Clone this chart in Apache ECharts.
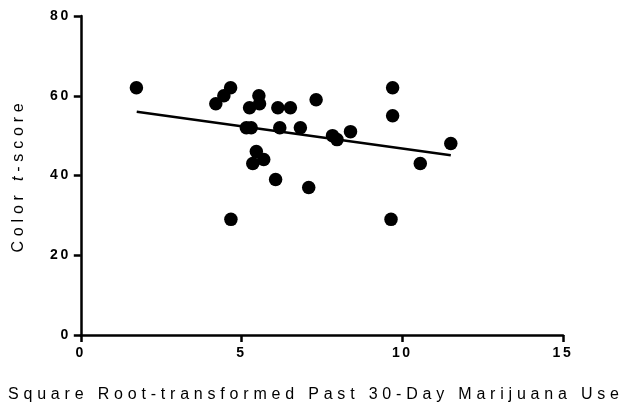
<!DOCTYPE html>
<html>
<head>
<meta charset="utf-8">
<script src="https://cdn.jsdelivr.net/npm/echarts@6/dist/echarts.min.js"></script>
<style>
html,body{margin:0;padding:0;background:#fff;}
#chart{width:630px;height:412px;}
</style>
</head>
<body>
<div id="chart"></div>
<script>
// ---- data ----
const marijuanaUse = [1.73, 4.66, 4.45, 4.20, 5.54, 5.56, 5.25, 6.13, 6.52, 5.15, 5.30, 6.19, 6.83, 5.46, 5.69, 5.35, 6.06, 4.67, 7.32, 9.70, 9.70, 7.83, 7.97, 8.39, 11.51, 10.56, 7.09, 9.65];
const colorTScore = [62, 62, 60, 58, 60, 58, 57, 57, 57, 52, 52, 52, 52, 46, 44, 43, 39, 29, 59, 62, 55, 50, 49, 51, 48, 43, 37, 29];
const fitX = [1.74, 11.51];
const fitY = [56.0, 45.1];
const xTicks = [0, 5, 10, 15];
const yTicks = [0, 20, 40, 60, 80];
const xName = 'Square Root-transformed Past 30-Day Marijuana Use';
const yNameParts = ['Color ', 't', '-score'];

// letter spacing (the reference text is tracked out)
function spacingFor(font) {
  if (/bold/.test(font)) return '2.6px';
  return '4.8px';
}
const P = CanvasRenderingContext2D.prototype;
const origFill = P.fillText, origMeasure = P.measureText;
P.fillText = function (t, x, y, w) { try { this.letterSpacing = spacingFor(this.font); } catch (e) {} return w === undefined ? origFill.call(this, t, x, y) : origFill.call(this, t, x, y, w); };
P.measureText = function (t) { try { this.letterSpacing = spacingFor(this.font); } catch (e) {} return origMeasure.call(this, t); };

const points = marijuanaUse.map((x, i) => [x, colorTScore[i]]);
const fitLine = fitX.map((x, i) => [x, fitY[i]]);

const chart = echarts.init(document.getElementById('chart'), null, { renderer: 'canvas' });
const axisCommon = {
  axisLine: { show: true, onZero: false, lineStyle: { color: '#000', width: 2.5 } },
  axisTick: { show: true, inside: false, length: 7, lineStyle: { color: '#000', width: 2.5 } },
  splitLine: { show: false },
  axisLabel: { color: '#000', fontFamily: 'Liberation Sans, Arial', fontWeight: 'bold', fontSize: 14 }
};
chart.setOption({
  animation: false,
  backgroundColor: '#fff',
  grid: { left: 80, right: 67, top: 16, bottom: 77, containLabel: false },
  xAxis: Object.assign({}, axisCommon, {
    type: 'value', min: xTicks[0], max: xTicks[xTicks.length - 1], interval: xTicks[1] - xTicks[0],
    name: xName, nameLocation: 'middle', nameGap: 49,
    nameTextStyle: { color: '#000', fontFamily: 'Liberation Sans, Arial', fontSize: 16, padding: [0, 12, 0, 0] },
    axisLabel: Object.assign({}, axisCommon.axisLabel, { margin: 10 })
  }),
  yAxis: Object.assign({}, axisCommon, {
    type: 'value', min: yTicks[0], max: yTicks[yTicks.length - 1], interval: yTicks[1] - yTicks[0],
    name: '{n|' + yNameParts[0] + '}{i|' + yNameParts[1] + '}{n|' + yNameParts[2] + '}',
    nameLocation: 'middle', nameGap: 52,
    nameTextStyle: {
      color: '#000', fontFamily: 'Liberation Sans, Arial', fontSize: 16,
      rich: {
        n: { color: '#000', fontFamily: 'Liberation Sans, Arial', fontSize: 16 },
        i: { color: '#000', fontFamily: 'Liberation Sans, Arial', fontSize: 16, fontStyle: 'italic' }
      }
    },
    axisLabel: Object.assign({}, axisCommon.axisLabel, { margin: 10 })
  }),
  series: [
    {
      type: 'scatter', data: points, symbol: 'circle', symbolSize: 13.5,
      itemStyle: { color: '#000', opacity: 1 }, z: 3
    },
    {
      type: 'line', data: fitLine, symbol: 'none', smooth: false,
      lineStyle: { color: '#000', width: 2.5 }, z: 2
    }
  ]
});
</script>
</body>
</html>
